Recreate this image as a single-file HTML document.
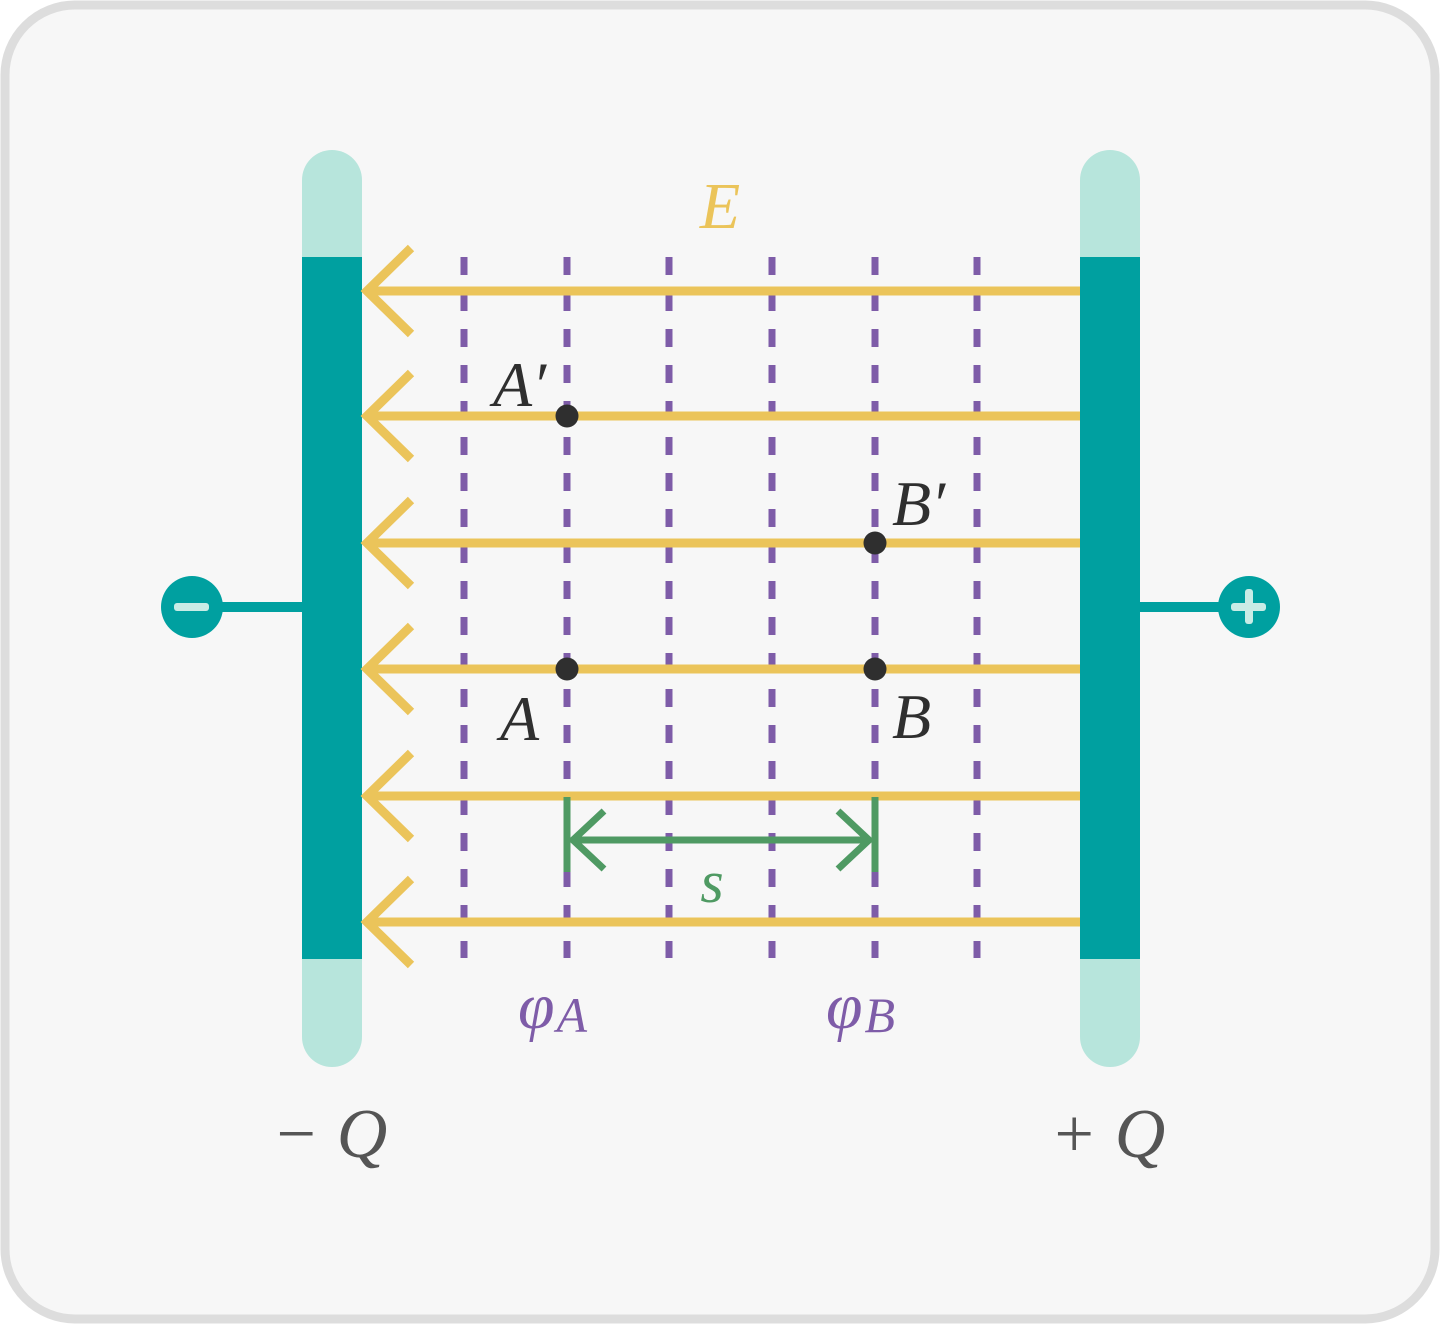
<!DOCTYPE html>
<html><head><meta charset="utf-8"><style>
html,body{margin:0;padding:0;background:#fff}
svg{display:block}
text{font-family:"Liberation Serif","DejaVu Serif",serif;font-style:italic}
</style></head><body>
<svg id="fig" width="1440" height="1324" viewBox="0 0 1440 1324">
<rect x="5" y="5" width="1430" height="1314" rx="70" fill="#f7f7f7" stroke="#dddddd" stroke-width="9"/>
<g id="plates"></g>
<g id="dashes"></g>
<g id="arrows"></g>
<g id="extras"></g>
</svg>
<script>
const fieldLineYs = [291, 416, 543, 669, 796, 922];
const equipotentialXs = [464, 567, 669, 772, 875, 977];
const pointNames = ["A'", "B'", "A", "B"];
const pointXs = [567, 875, 567, 875];
const pointYs = [416, 543, 669, 669];

const NS = "http://www.w3.org/2000/svg";
function mk(tag, attrs, parent, txt){
  const e = document.createElementNS(NS, tag);
  for (const k in attrs) e.setAttribute(k, attrs[k]);
  if (txt !== undefined) e.textContent = txt;
  parent.appendChild(e);
  return e;
}
const plates = document.getElementById('plates');
const dashes = document.getElementById('dashes');
const arrows = document.getElementById('arrows');
const extras = document.getElementById('extras');

[[302,'left-plate'],[1080,'right-plate']].forEach(([x,n])=>{
  const g = mk('g',{},plates);
  
  
  mk('rect',{x:x,y:150,width:60,height:917,rx:30,fill:'#b7e5dc'},g);
  mk('rect',{x:x,y:257,width:60,height:702,fill:'#00a0a0'},g);
});

const tm = mk('g',{},extras);


mk('line',{x1:192,y1:607,x2:302,y2:607,stroke:'#00a0a0','stroke-width':10},tm);
mk('circle',{cx:192,cy:607,r:31,fill:'#00a0a0'},tm);
mk('rect',{x:174,y:603,width:35,height:8,rx:3,fill:'#c9ece6'},tm);
const tp = mk('g',{},extras);


mk('line',{x1:1139,y1:607,x2:1249,y2:607,stroke:'#00a0a0','stroke-width':10},tp);
mk('circle',{cx:1249,cy:607,r:31,fill:'#00a0a0'},tp);
mk('rect',{x:1231,y:603,width:35,height:8,rx:3,fill:'#c9ece6'},tp);
mk('rect',{x:1245,y:589,width:8,height:35,rx:3,fill:'#c9ece6'},tp);

equipotentialXs.forEach((x,i)=>{
  const l = mk('line',{x1:x,y1:257,x2:x,y2:958,stroke:'#7e5ca8','stroke-width':7,'stroke-dasharray':'18 18'},dashes);
  
  
});

fieldLineYs.forEach((y,i)=>{
  const g = mk('g',{fill:'none',stroke:'#ebc45a','stroke-width':9},arrows);
  
  
  mk('line',{x1:1080,y1:y,x2:368,y2:y},g);
  mk('polyline',{points:`411,${y-43} 367,${y} 411,${y+43}`},g);
});

pointNames.forEach((n,i)=>{
  const c = mk('circle',{cx:pointXs[i],cy:pointYs[i],r:11.5,fill:'#2f2f2f'},extras);
  
  
});

function label(txt,x,y,size,fill,name,anchor){
  const t = mk('text',{x:x,y:y,'font-size':size,fill:fill,'text-anchor':anchor||'start'},extras,txt);
  
  
  return t;
}
label("A′",493,406,64,'#2f2f2f','label-a-prime');
label("B′",892,525,64,'#2f2f2f','label-b-prime');
label("A",500,740,64,'#2f2f2f','label-a');
label("B",892,738,64,'#2f2f2f','label-b');
label("E",720,228,66,'#ebc45a','label-e','middle');
label("s",712,902,60,'#4f9a63','label-s','middle');

const pa = label("φ",518,1028,66,'#7e5ca8','label-phi-a');
mk('tspan',{'font-size':50,dx:2,dy:4},pa,'A');
const pb = label("φ",826,1028,66,'#7e5ca8','label-phi-b');
mk('tspan',{'font-size':50,dx:2,dy:4},pb,'B');

const qm = label("− ",272,1157,70,'#555555','label-minus-q');
mk('tspan',{},qm,'Q');
const qp = label("+ ",1050,1157,70,'#555555','label-plus-q');
mk('tspan',{},qp,'Q');

const sg = mk('g',{fill:'none',stroke:'#4f9a63','stroke-width':7},extras);


mk('line',{x1:567,y1:797,x2:567,y2:872},sg);
mk('line',{x1:875,y1:797,x2:875,y2:872},sg);
mk('line',{x1:572,y1:840,x2:870,y2:840},sg);
mk('polyline',{points:'604,811 573,840 604,869'},sg);
mk('polyline',{points:'838,811 869,840 838,869'},sg);
</script>
</body></html>
